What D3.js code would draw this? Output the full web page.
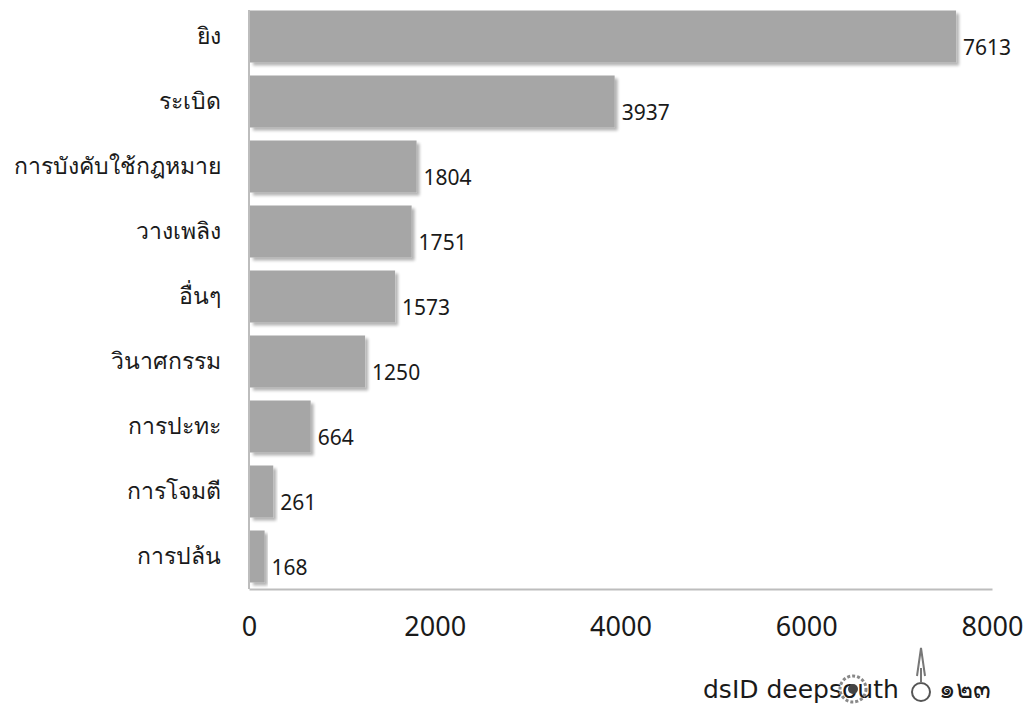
<!DOCTYPE html>
<html>
<head>
<meta charset="utf-8">
<script src="https://cdn.jsdelivr.net/npm/d3@7"></script>
<style>
  html, body { margin: 0; padding: 0; background: #fff; }
  svg { display: block; }
  text { font-family: "Noto Sans", "DejaVu Sans", sans-serif; fill: #1a1a1a; }
</style>
</head>
<body>
<svg id="chart" width="1033" height="719"></svg>
<script>
// Incident types and counts
const categories = ["ยิง", "ระเบิด", "การบังคับใช้กฎหมาย", "วางเพลิง", "อื่นๆ", "วินาศกรรม", "การปะทะ", "การโจมตี", "การปล้น"];
const counts = [7613, 3937, 1804, 1751, 1573, 1250, 664, 261, 168];
const xTicks = [0, 2000, 4000, 6000, 8000];

const svg = d3.select("#chart");
const margin = { left: 249, right: 41, top: 4, bottom: 130 };
const W = 1033, H = 719;

const x = d3.scaleLinear().domain([0, 8000]).range([margin.left, W - margin.right]);
const y = d3.scaleBand().domain(categories).range([margin.top, H - margin.bottom]).paddingInner(0.2).paddingOuter(0.1);

// soft drop shadow for the bars
const defs = svg.append("defs");
const f = defs.append("filter").attr("id", "shadow").attr("x", "-10%").attr("y", "-20%").attr("width", "130%").attr("height", "160%");
f.append("feGaussianBlur").attr("in", "SourceAlpha").attr("stdDeviation", 1.6).attr("result", "b");
f.append("feOffset").attr("in", "b").attr("dx", 2.5).attr("dy", 2.5).attr("result", "o");
f.append("feComponentTransfer").attr("in", "o").attr("result", "s")
  .append("feFuncA").attr("type", "linear").attr("slope", 0.3);
const m = f.append("feMerge");
m.append("feMergeNode").attr("in", "s");
m.append("feMergeNode").attr("in", "SourceGraphic");

// bars
svg.append("g").selectAll("rect").data(categories).join("rect")
  .attr("x", x(0) + 1)
  .attr("y", d => y(d))
  .attr("width", (d, i) => x(counts[i]) - x(0) - 1)
  .attr("height", y.bandwidth())
  .attr("fill", "#a6a6a6")
  .attr("filter", "url(#shadow)");

// value labels
svg.append("g").selectAll("text").data(categories).join("text")
  .attr("x", (d, i) => x(counts[i]) + 7)
  .attr("y", d => y(d) + y.bandwidth() / 2 + 10)
  .attr("dominant-baseline", "central")
  .attr("font-size", 21)
  .text((d, i) => counts[i]);

// y axis (category labels, no ticks)
const yAxis = svg.append("g").attr("transform", `translate(${x(0)},0)`)
  .call(d3.axisLeft(y).tickSize(0).tickPadding(28));
yAxis.select(".domain").attr("stroke", "#bdbdbd").attr("stroke-width", 2)
  .attr("d", `M0,${margin.top + 6}V${H - margin.bottom}`);
yAxis.selectAll("text").attr("font-size", 23).attr("fill", "#1a1a1a")
  .style("font-family", '"Noto Sans", "DejaVu Sans", sans-serif');

// x axis
const xAxis = svg.append("g").attr("transform", `translate(0,${H - margin.bottom})`)
  .call(d3.axisBottom(x).tickValues(xTicks).tickSize(0).tickPadding(28).tickFormat(d3.format("d")));
xAxis.select(".domain").attr("stroke", "#bdbdbd").attr("stroke-width", 2);
xAxis.selectAll("text").attr("font-size", 27).attr("fill", "#1a1a1a")
  .style("font-family", '"Noto Sans", "DejaVu Sans", sans-serif');

// credit mark, bottom right
const logo = svg.append("g").attr("transform", "translate(703,698)");
logo.append("text").attr("x", 0).attr("y", 0).attr("font-size", 25).attr("fill", "#333")
  .style("font-family", '"DejaVu Sans", sans-serif').text("dsID deepsouth");
logo.append("circle").attr("cx", 150).attr("cy", -9).attr("r", 13).attr("fill", "none").attr("stroke", "#888").attr("stroke-width", 3).attr("stroke-dasharray", "3 2");
logo.append("circle").attr("cx", 150).attr("cy", -9).attr("r", 5).attr("fill", "#444");
logo.append("circle").attr("cx", 218).attr("cy", -6).attr("r", 9).attr("fill", "none").attr("stroke", "#555").attr("stroke-width", 2);
logo.append("path").attr("d", "M218,-15 L218,-30 M214,-22 L218,-50 L222,-22").attr("stroke", "#777").attr("fill", "none").attr("stroke-width", 2);
logo.append("text").attr("x", 236).attr("y", 0).attr("font-size", 26).attr("fill", "#333")
  .style("font-family", '"DejaVu Sans", sans-serif').text("๑๒๓");
</script>
</body>
</html>
